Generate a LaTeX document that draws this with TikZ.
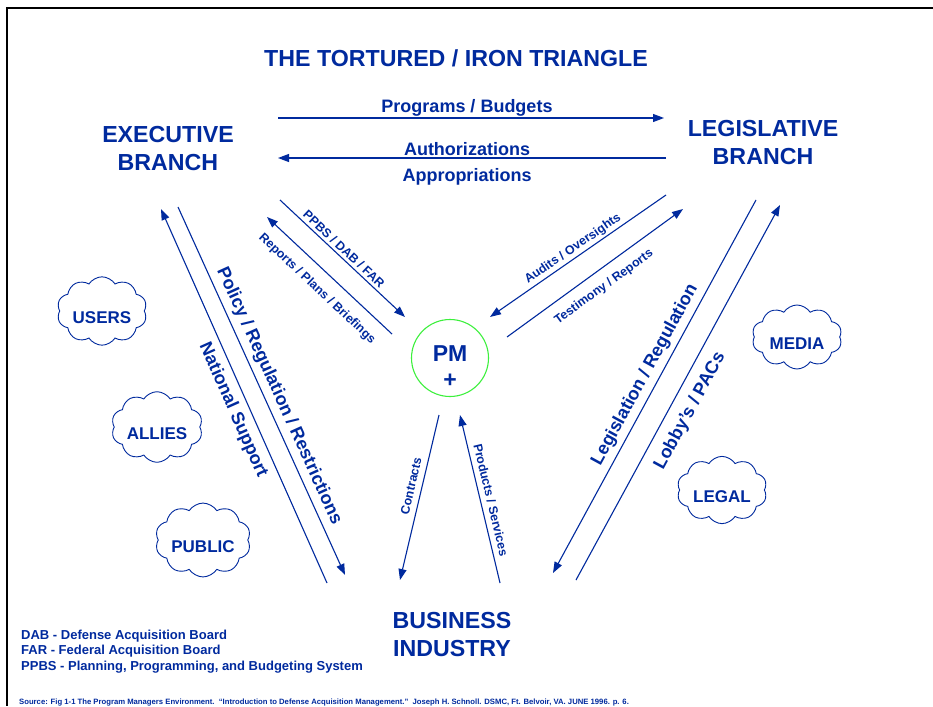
\documentclass[tikz,border=0pt]{standalone}
\usepackage{fontspec}
\setmainfont{Liberation Sans}
\usetikzlibrary{arrows.meta,shapes.symbols}
\definecolor{ink}{RGB}{0,42,158}
\definecolor{pmring}{RGB}{60,240,60}
\newcommand{\fsz}[2]{\fontsize{#1}{#2}\selectfont\bfseries}
\tikzset{
  flow/.style={draw=ink, line width=1.1pt, -{Triangle[length=11pt,width=8pt]}},
  bigtxt/.style={text=ink, font=\fsz{23.2}{28}, align=center, inner sep=0pt},
  midtxt/.style={text=ink, font=\fsz{18}{22}, inner sep=0pt},
  smalltxt/.style={text=ink, font=\fsz{12.4}{14}, inner sep=0pt},
  puff/.style={cloud, cloud puffs=10, cloud puff arc=115, aspect=1.45,
    draw=ink, line width=0.9pt, fill=white, minimum width=90pt, minimum height=64pt,
    text=ink, font=\fsz{17}{20}, inner sep=0pt, text height=24pt, text depth=0pt},
  notetxt/.style={text=ink, font=\fsz{13}{15.5}, align=left, inner sep=0pt, anchor=base west},
}
\begin{document}
\begin{tikzpicture}[x=1pt,y=-1pt]
\useasboundingbox (0,0) rectangle (933,706);
\fill[white] (0,0) rectangle (933,706);

% slide frame
\draw[black, line width=2.6pt] (933,8) -- (7,8) -- (7,706);

% title and the three corners (base anchor sits on the last line)
\node[bigtxt, anchor=base] (title) at (456,67) {THE TORTURED / IRON TRIANGLE};
\node[bigtxt, anchor=base] (exec) at (168,170) {EXECUTIVE\\BRANCH};
\node[bigtxt, anchor=base] (legis) at (763,164) {LEGISLATIVE\\BRANCH};
\node[bigtxt, anchor=base] (biz) at (452,656) {BUSINESS\\INDUSTRY};

% program manager
\node[circle, draw=pmring, line width=1.1pt, minimum size=77pt, inner sep=0pt] (pm) at (450,358) {};
\node[text=ink, font=\fsz{23}{28}, inner sep=0pt, anchor=base] (pmname) at (450,361) {PM};
\node[text=ink, font=\fsz{23}{28}, inner sep=0pt] (pmplus) at (450,381) {+};

% connector end points
\coordinate (pbA) at (278,118);  \coordinate (pbB) at (664,118);
\coordinate (auA) at (666,158);  \coordinate (auB) at (278,158);
\coordinate (ppA) at (280,200);  \coordinate (ppB) at (405,317);
\coordinate (rpA) at (392,334);  \coordinate (rpB) at (267,217);
\coordinate (aoA) at (666,195);  \coordinate (aoB) at (490,317);
\coordinate (trA) at (507,337);  \coordinate (trB) at (683,209);
\coordinate (coA) at (439,415);  \coordinate (coB) at (400,580);
\coordinate (psA) at (500,583);  \coordinate (psB) at (460,415);
\coordinate (poA) at (178,207);  \coordinate (poB) at (345,575);
\coordinate (nsA) at (327,583);  \coordinate (nsB) at (161,209);
\coordinate (lrA) at (756,200);  \coordinate (lrB) at (553,573);
\coordinate (lpA) at (576,580);  \coordinate (lpB) at (780,205);

\draw[flow] (pbA) -- (pbB);
\draw[flow] (auA) -- (auB);
\draw[flow] (ppA) -- (ppB);
\draw[flow] (rpA) -- (rpB);
\draw[flow] (aoA) -- (aoB);
\draw[flow] (trA) -- (trB);
\draw[flow] (coA) -- (coB);
\draw[flow] (psA) -- (psB);
\draw[flow] (poA) -- (poB);
\draw[flow] (nsA) -- (nsB);
\draw[flow] (lrA) -- (lrB);
\draw[flow] (lpA) -- (lpB);

% connector labels
\node[midtxt, anchor=base] (lblpb) at (467,112.5) {Programs / Budgets};
\node[midtxt, anchor=base] (lblau) at (467,155) {Authorizations};
\node[midtxt, anchor=base] (lblap) at (467,181) {Appropriations};
\node[smalltxt, rotate=-43.1] (lblpp) at (344,249) {PPBS / DAB / FAR};
\node[smalltxt, rotate=-43.1] (lblrp) at (317,289) {Reports / Plans / Briefings};
\node[smalltxt, rotate=34.7] (lblao) at (573,249) {Audits / Oversights};
\node[smalltxt, rotate=36] (lbltr) at (604,287) {Testimony / Reports};
\node[smalltxt, rotate=76.7] (lblco) at (411,486) {Contracts};
\node[smalltxt, rotate=-76.6] (lblps) at (491,500) {Products / Services};
\node[midtxt, rotate=-65.6] (lblpo) at (279,396) {Policy / Regulation / Restrictions};
\node[midtxt, rotate=-66] (lblns) at (233,410) {National Support};
\node[midtxt, rotate=61.4] (lbllr) at (645,375) {Legislation / Regulation};
\node[midtxt, rotate=61.5] (lbllp) at (690,411) {Lobby's / PACs};

% outside influences (labels sit a little below each cloud's middle)
\node[puff] (users) at (102,311) {USERS};
\node[puff] (allies) at (157,427) {ALLIES};
\node[puff] (public) at (203,540) {PUBLIC};
\node[puff] (media) at (797,337) {MEDIA};
\node[puff] (legal) at (722,490) {LEGAL};

% abbreviations
\node[notetxt] (abbr1) at (21,639) {DAB - Defense Acquisition Board};
\node[notetxt] (abbr2) at (21,654.5) {FAR - Federal Acquisition Board};
\node[notetxt] (abbr3) at (21,670) {PPBS - Planning, Programming, and Budgeting System};

% citation
\node[text=ink, font=\fsz{7.7}{9}, inner sep=0pt, anchor=base west] (src) at (19,704)
  {Source: Fig 1-1 The Program Managers Environment.\ \ ``Introduction to Defense Acquisition Management.''\ \ Joseph H. Schnoll. DSMC, Ft. Belvoir, VA. JUNE 1996. p. 6.};
\end{tikzpicture}
\end{document}
